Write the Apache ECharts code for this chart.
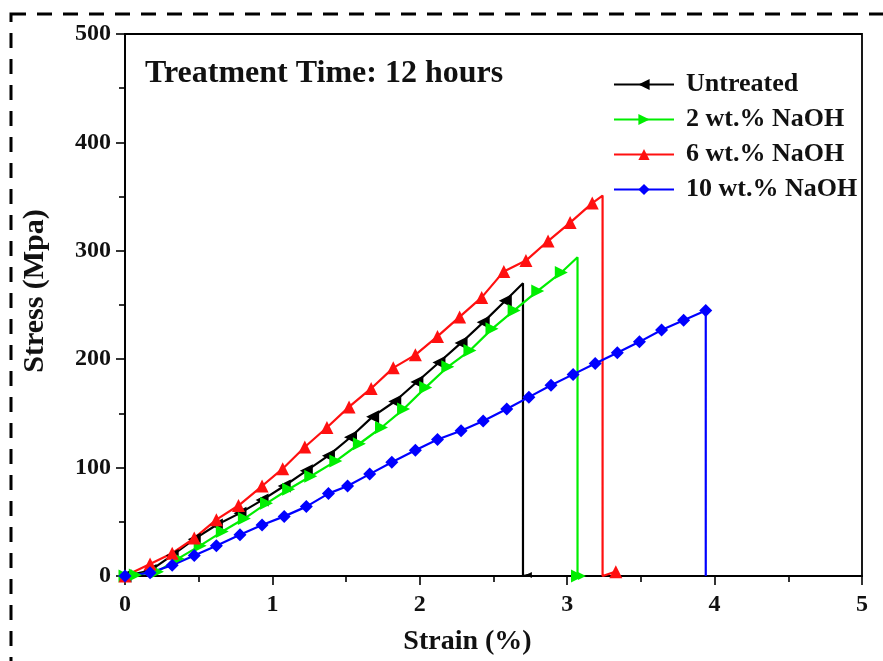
<!DOCTYPE html>
<html><head><meta charset="utf-8">
<script src="https://cdn.jsdelivr.net/npm/echarts@6/dist/echarts.min.js"></script>
<style>html,body{margin:0;padding:0;background:#fff}#c{width:883px;height:661px}</style>
</head><body><div id="c"></div>
<script>
// ---- data (strain %, stress MPa) ----
const seriesNames = ['Untreated', '2 wt.% NaOH', '6 wt.% NaOH', '10 wt.% NaOH'];
const untreatedStrain = [0, 0.17, 0.32, 0.47, 0.62, 0.78, 0.93, 1.08, 1.23, 1.38, 1.53, 1.68, 1.83, 1.98, 2.13, 2.28, 2.43, 2.58, 2.70, 2.70, 2.74];
const untreatedStress = [0, 5, 19, 34, 47, 58, 70, 83, 97, 111, 128, 147, 161, 179, 197, 215, 234, 254, 270, 0, 1];
const naoh2Strain = [0, 0.07, 0.22, 0.36, 0.51, 0.66, 0.81, 0.96, 1.11, 1.26, 1.43, 1.59, 1.74, 1.89, 2.04, 2.19, 2.34, 2.49, 2.64, 2.80, 2.96, 3.07, 3.07, 3.10];
const naoh2Stress = [0, 1, 4, 16, 28, 41, 53, 67, 80, 92, 106, 122, 137, 154, 174, 193, 208, 228, 245, 263, 280, 294, 0, 0];
const naoh6Strain = [0, 0.17, 0.32, 0.47, 0.62, 0.77, 0.93, 1.07, 1.22, 1.37, 1.52, 1.67, 1.82, 1.97, 2.12, 2.27, 2.42, 2.57, 2.72, 2.87, 3.02, 3.17, 3.24, 3.24, 3.33];
const naoh6Stress = [0, 11, 21, 35, 52, 65, 83, 99, 119, 137, 156, 173, 192, 204, 221, 239, 257, 281, 291, 309, 326, 344, 351, 0, 4];
const naoh10Strain = [0, 0.17, 0.32, 0.47, 0.62, 0.78, 0.93, 1.08, 1.23, 1.38, 1.51, 1.66, 1.81, 1.97, 2.12, 2.28, 2.43, 2.59, 2.74, 2.89, 3.04, 3.19, 3.34, 3.49, 3.64, 3.79, 3.94, 3.94];
const naoh10Stress = [0, 3, 10, 19, 28, 38, 47, 55, 64, 76, 83, 94, 105, 116, 126, 134, 143, 154, 165, 176, 186, 196, 206, 216, 227, 236, 245, 0];
// indices drawn without a marker (peak and drop vertices)
const untreatedPlain = [18, 19];
const naoh2Plain = [21];
const naoh6Plain = [22, 23];
const naoh10Plain = [27];
const annotation = 'Treatment Time: 12 hours';

const FONT = '"Liberation Serif", "DejaVu Serif", serif';
function build(xs, ys, plain, small) {
  return xs.map((x, i) => {
    const d = { value: [x, ys[i]] };
    if (plain.indexOf(i) >= 0) d.symbol = 'none';
    if (i === xs.length - 1 && small) d.symbolSize = small;
    return d;
  });
}
const colors = ['#000000', '#00ee00', '#ff1010', '#0000ff'];
const symbols = ['triangle', 'triangle', 'triangle', 'diamond'];
const rotates = [90, -90, 0, 0];
const datasets = [
  build(untreatedStrain, untreatedStress, untreatedPlain, 6),
  build(naoh2Strain, naoh2Stress, naoh2Plain, 8),
  build(naoh6Strain, naoh6Stress, naoh6Plain, null),
  build(naoh10Strain, naoh10Stress, naoh10Plain, null)
];

const chart = echarts.init(document.getElementById('c'), null, { renderer: 'canvas' });
chart.setOption({
  animation: false,
  backgroundColor: '#fff',
  grid: { left: 125, right: 21, top: 34, bottom: 83, show: true, borderColor: '#000', borderWidth: 1.8, containLabel: false },
  xAxis: {
    type: 'value', min: 0, max: 5, interval: 1,
    name: 'Strain (%)', nameLocation: 'middle', nameGap: 52,
    nameTextStyle: { fontFamily: FONT, fontWeight: 'bold', fontSize: 28, color: '#111', padding: [0, 52, 0, 0] },
    axisLine: { lineStyle: { color: '#000', width: 1.8 } },
    axisTick: { inside: false, length: 9, lineStyle: { color: '#000', width: 1.6 } },
    minorTick: { show: true, splitNumber: 2, length: 6, lineStyle: { color: '#000', width: 1.6 } },
    axisLabel: { fontFamily: FONT, fontWeight: 'bold', fontSize: 24, color: '#111', margin: 17 },
    splitLine: { show: false }
  },
  yAxis: {
    type: 'value', min: 0, max: 500, interval: 100,
    name: 'Stress (Mpa)', nameLocation: 'middle', nameGap: 75,
    nameTextStyle: { fontFamily: FONT, fontWeight: 'bold', fontSize: 30, color: '#111', padding: [0, 0, 0, 28] },
    axisLine: { lineStyle: { color: '#000', width: 1.8 } },
    axisTick: { inside: false, length: 9, lineStyle: { color: '#000', width: 1.6 } },
    minorTick: { show: true, splitNumber: 2, length: 6, lineStyle: { color: '#000', width: 1.6 } },
    axisLabel: { fontFamily: FONT, fontWeight: 'bold', fontSize: 24, color: '#111', margin: 14 },
    splitLine: { show: false }
  },
  legend: {
    orient: 'vertical', left: 608, top: 66, itemGap: 8,
    itemWidth: 60, itemHeight: 14,
    textStyle: { fontFamily: FONT, fontWeight: 'bold', fontSize: 26, color: '#111', padding: [0, 0, 0, 7], lineHeight: 27 },
    data: seriesNames
  },
  graphic: [
    { type: 'rect', shape: { x: 11, y: 14, width: 960, height: 760 }, style: { fill: 'none', stroke: '#000', lineWidth: 3, lineDash: [15, 11] }, silent: true, z: 100 },
    { type: 'text', left: 145, top: 58, style: { text: annotation, fontFamily: FONT, fontWeight: 'bold', fontSize: 32, fill: '#111' } }
  ],
  series: datasets.map((d, i) => ({
    name: seriesNames[i], type: 'line', data: d,
    symbol: symbols[i], symbolRotate: rotates[i], symbolSize: 13,
    showAllSymbol: true,
    lineStyle: { color: colors[i], width: 2.2 },
    itemStyle: { color: colors[i] },
    clip: true
  }))
});
</script></body></html>
